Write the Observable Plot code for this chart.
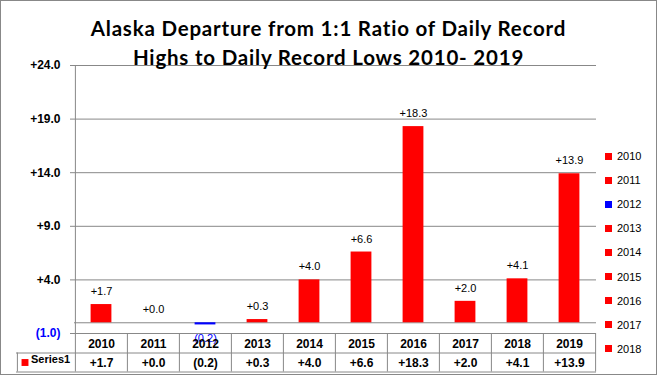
<!DOCTYPE html>
<html>
<head>
<meta charset="utf-8">
<script src="https://cdn.jsdelivr.net/npm/d3@7"></script>
<script src="https://cdn.jsdelivr.net/npm/@observablehq/plot@0.6"></script>
<style>
  html, body { margin: 0; padding: 0; background: #fff; }
  #wrap { position: relative; width: 657px; height: 375px; overflow: hidden; background: #fff; }
  #border { position: absolute; left: 0; top: 0; width: 655px; height: 373px; border: 1px solid #888; pointer-events: none; }
  #title { position: absolute; left: 0; top: 14px; width: 657px; text-align: center;
           font-family: Lato, "Liberation Sans", sans-serif; font-weight: bold; font-size: 20.5px;
           line-height: 29px; color: #000; letter-spacing: 0.8px; }
  #legend { position: absolute; left: 605px; top: 144px; font-family: "Liberation Sans", Arial, sans-serif; font-size: 11px; color: #000; }
  .li { height: 24.1px; display: flex; align-items: center; position: relative; }
  .sw { width: 7px; height: 7px; margin-right: 5px; }
  #chart { position: absolute; left: 0; top: 0; }
</style>
</head>
<body>
<div id="wrap">
  <div id="chart"></div>
  <div id="title">Alaska Departure from 1:1 Ratio of Daily Record<br>Highs to Daily Record Lows 2010- 2019</div>
  <div id="legend"></div>
  <div id="border"></div>
</div>
<script>
// ---- data ----
const years = ["2010", "2011", "2012", "2013", "2014", "2015", "2016", "2017", "2018", "2019"];
const values = [1.7, 0.0, -0.2, 0.3, 4.0, 6.6, 18.3, 2.0, 4.1, 13.9];
const yTicks = [-1, 4, 9, 14, 19, 24];
const legendYears = ["2010", "2011", "2012", "2013", "2014", "2015", "2016", "2017", "2018"];
const seriesName = "Series1";

// ---- styling ----
const RED = "#ff0000", BLUE = "#0000ff", GRID = "#888888";
const W = 657, H = 375, ML = 74, MR = 61, MT = 65, MB = 42;
const plotW = W - ML - MR, plotH = H - MT - MB;
const step = plotW / years.length;
const barW = 21;
const row1 = 19.5, row2 = 38.5, labelCellW = 58;

const fmt = v => v < 0 ? `(${Math.abs(v).toFixed(1)})` : `+${v.toFixed(1)}`;
const colorOf = v => v < 0 ? BLUE : RED;

const data = years.map((y, i) => ({year: y, value: values[i]}));
const valueOf = Object.fromEntries(data.map(d => [d.year, d.value]));

const chart = Plot.plot({
  width: W, height: H,
  marginLeft: ML, marginRight: MR, marginTop: MT, marginBottom: MB,
  x: {domain: years, padding: 0, axis: null},
  y: {domain: [-1, 24], axis: null},
  style: {background: "transparent", overflow: "visible", fontFamily: "'Liberation Sans', Arial, sans-serif"},
  marks: [
    // gridlines with short left tick marks
    Plot.ruleY(yTicks, {y: d => d, stroke: GRID, insetLeft: -4}),
    // zero (category axis) line
    Plot.ruleY([0], {stroke: GRID}),
    // vertical value axis line running into the data table
    Plot.tickX([years[0]], {x: d => d, dx: -step / 2, stroke: GRID, insetBottom: -row2}),
    // table column borders
    Plot.tickX(years.slice(1), {x: d => d, dx: -step / 2, stroke: GRID, insetTop: plotH, insetBottom: -row2}),
    Plot.tickX([years[years.length - 1]], {x: d => d, dx: step / 2, stroke: GRID, insetTop: plotH, insetBottom: -row2}),
    // series-name cell left border
    Plot.tickX([years[0]], {x: d => d, dx: -step / 2 - labelCellW, stroke: GRID, insetTop: plotH + row1, insetBottom: -row2}),
    // table row lines
    Plot.ruleY([-1], {y: d => d, dy: row1, stroke: GRID, insetLeft: -labelCellW}),
    Plot.ruleY([-1], {y: d => d, dy: row2, stroke: GRID, insetLeft: -labelCellW}),
    // bars
    Plot.barY(data, {x: "year", y: "value", fill: d => colorOf(d.value),
      insetLeft: (step - barW) / 2, insetRight: (step - barW) / 2}),
    // data labels
    Plot.text(data.filter(d => d.value >= 0), {x: "year", y: "value", text: d => fmt(d.value), dy: -13, fontSize: 11, fill: "#000"}),
    Plot.text(data.filter(d => d.value < 0), {x: "year", y: "value", text: d => fmt(d.value), dy: 14, fontSize: 11, fill: BLUE}),
    // y tick labels
    Plot.text(yTicks, {y: d => d, frameAnchor: "left", dx: -14, textAnchor: "end", text: d => fmt(d),
      fontWeight: "bold", fontSize: 12, fill: d => d < 0 ? BLUE : "#000"}),
    // table: category row
    Plot.text(years, {x: d => d, y: () => -1, dy: row1 / 2 + 0.5, text: d => d, fontWeight: "bold", fontSize: 12, fill: "#000"}),
    // table: values row
    Plot.text(years, {x: d => d, y: () => -1, dy: (row1 + row2) / 2 + 0.5, text: d => fmt(valueOf[d]), fontWeight: "bold", fontSize: 12, fill: "#000"}),
    // series name cell
    Plot.dot([seriesName], {frameAnchor: "bottom-left", dx: -labelCellW + 8.5, dy: (row1 + row2) / 2, symbol: "square", r: 3.9, fill: RED, stroke: null}),
    Plot.text([seriesName], {frameAnchor: "bottom-left", dx: -labelCellW + 14.5, dy: (row1 + row2) / 2 + 0.5, textAnchor: "start", text: d => d, fontWeight: "bold", fontSize: 11, fill: "#000"})
  ]
});
document.getElementById("chart").appendChild(chart);

// legend
const legend = document.getElementById("legend");
for (const y of legendYears) {
  const item = document.createElement("div");
  item.className = "li";
  const sw = document.createElement("span");
  sw.className = "sw";
  sw.style.background = colorOf(valueOf[y]);
  const t = document.createElement("span");
  t.textContent = y;
  item.appendChild(sw); item.appendChild(t);
  legend.appendChild(item);
}
</script>
</body>
</html>
